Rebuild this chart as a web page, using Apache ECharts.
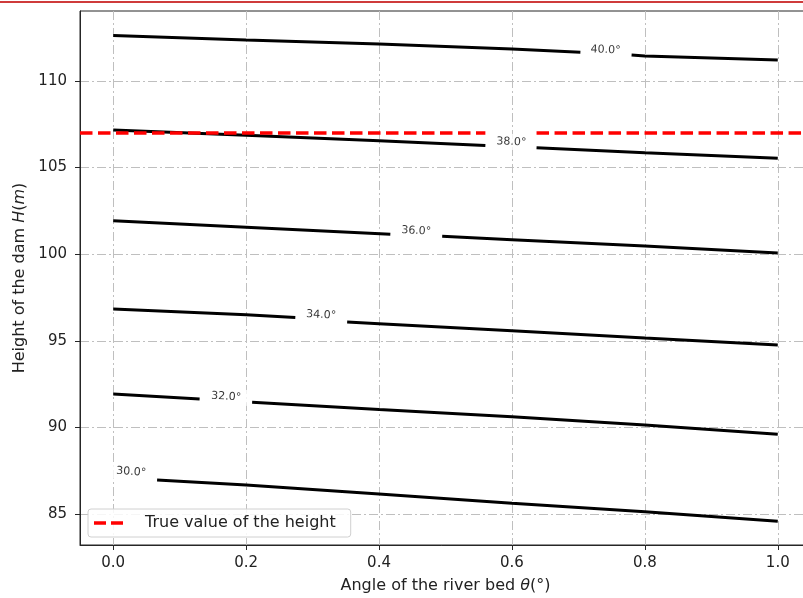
<!DOCTYPE html>
<html>
<head>
<meta charset="utf-8">
<script src="https://cdn.jsdelivr.net/npm/echarts@6/dist/echarts.min.js"></script>
<style>
  html, body { margin: 0; padding: 0; background: #fff; }
  #chart { width: 803px; height: 598px; }
</style>
</head>
<body>
<div id="chart"></div>
<script>
// Contour levels of the friction angle and the dam-height curves they produce.
const levelNames = ['40.0°', '38.0°', '36.0°', '34.0°', '32.0°', '30.0°'];

// Each curve: river-bed angle θ and dam height H; a null height marks the break
// left open for the inline contour label.
const theta40 = [0, 0.2, 0.4, 0.6, 0.703, 0.74, 0.780, 0.8, 1.0];
const height40 = [112.62, 112.37, 112.14, 111.85, 111.66, null, 111.50, 111.44, 111.21];

const theta38 = [0, 0.2, 0.4, 0.560, 0.6, 0.637, 0.8, 1.0];
const height38 = [107.17, 106.86, 106.55, 106.28, null, 106.15, 105.85, 105.54];

const theta36 = [0, 0.2, 0.417, 0.456, 0.495, 0.6, 0.8, 1.0];
const height36 = [101.93, 101.56, 101.15, null, 101.03, 100.84, 100.47, 100.07];

const theta34 = [0, 0.2, 0.274, 0.313, 0.352, 0.4, 0.6, 0.8, 1.0];
const height34 = [96.84, 96.51, 96.35, null, 96.09, 95.99, 95.58, 95.16, 94.76];

const theta32 = [0, 0.130, 0.17, 0.209, 0.4, 0.6, 0.8, 1.0];
const height32 = [91.93, 91.64, null, 91.45, 91.04, 90.62, 90.14, 89.60];

const theta30 = [0.066, 0.2, 0.4, 0.6, 0.8, 1.0];
const height30 = [86.96, 86.67, 86.15, 85.62, 85.13, 84.58];

// Where each contour label sits (θ, H).
const labelTheta = [0.741, 0.599, 0.456, 0.313, 0.170, 0.027];
const labelHeight = [111.79, 106.48, 101.34, 96.49, 91.77, 87.43];

// Reference height of the dam; the dashed line is interrupted behind the 38.0° label.
const trueHeight = 107;
const trueHeightName = 'True value of the height';
const trueLineTheta = [-0.05, 0.560, 0.6, 0.637, 1.05];
const trueLineHeight = [trueHeight, trueHeight, null, trueHeight, trueHeight];

// Tick values.
const xTicks = [0, 0.2, 0.4, 0.6, 0.8, 1.0];
const yTicks = [85, 90, 95, 100, 105, 110];

const curves = [
  [theta40, height40], [theta38, height38], [theta36, height36],
  [theta34, height34], [theta32, height32], [theta30, height30]
];

const FONT = '"DejaVu Sans", sans-serif';
const chart = echarts.init(document.getElementById('chart'), null, { renderer: 'canvas' });

function curveData(t, h) {
  return t.map((v, i) => [v, h[i] === null ? '-' : h[i]]);
}

function slopeAngle(t, h) {
  // on-screen angle of a curve, from its first to last point
  const i0 = 0, i1 = t.length - 1;
  const p0 = chart.convertToPixel({ gridIndex: 0 }, [t[i0], h[i0]]);
  const p1 = chart.convertToPixel({ gridIndex: 0 }, [t[i1], h[i1]]);
  return -Math.atan2(p1[1] - p0[1], p1[0] - p0[0]) * 180 / Math.PI;
}

const gridLine = { color: '#bfbfbf', width: 1, type: [9, 3, 2, 3] };
const dashIcon = 'path://M0,0H12V3.5H0ZM17,0H29V3.5H17Z';
const titleRich = { i: { fontFamily: FONT, fontSize: 16, fontStyle: 'italic', color: '#222' } };

function buildOption(angles) {
  const series = curves.map((c, k) => ({
    type: 'line',
    name: levelNames[k],
    data: curveData(c[0], c[1]),
    showSymbol: false,
    symbol: 'none',
    connectNulls: false,
    lineStyle: { color: '#000', width: 3 },
    z: 3,
    silent: true
  }));

  series.push({
    type: 'line',
    name: trueHeightName,
    data: curveData(trueLineTheta, trueLineHeight),
    symbol: 'none',
    connectNulls: false,
    itemStyle: { color: '#ff0000' },
    lineStyle: { color: '#ff0000', width: 3.5, type: [12.5, 5.5] },
    z: 4,
    silent: true
  });

  series.push({
    type: 'scatter',
    name: 'levels',
    symbolSize: 0,
    z: 10,
    silent: true,
    data: labelTheta.map((t, k) => ({
      value: [t, labelHeight[k]],
      label: { rotate: angles ? angles[k] : 0 }
    })),
    label: {
      show: true,
      position: 'inside',
      align: 'center',
      verticalAlign: 'middle',
      formatter: p => levelNames[p.dataIndex],
      fontFamily: FONT,
      fontSize: 11,
      color: '#000',
      backgroundColor: '#fff',
      padding: [3, 6, 2, 6]
    }
  });

  return {
    animation: false,
    backgroundColor: '#fff',
    textStyle: { fontFamily: FONT },
    grid: {
      left: 80, top: 11, width: 731, height: 534,
      outerBoundsMode: 'none',
      containLabel: false,
      show: true, borderColor: '#262626', borderWidth: 1, backgroundColor: 'transparent'
    },
    legend: {
      show: true,
      data: [{ name: trueHeightName, icon: dashIcon }],
      left: 88, top: 509,
      orient: 'vertical',
      padding: [6, 15, 6, 6],
      itemWidth: 29, itemHeight: 3.5,
      itemStyle: { color: '#ff0000', borderWidth: 0 },
      backgroundColor: 'rgba(255,255,255,0.85)',
      borderColor: '#d0d0d0', borderWidth: 1, borderRadius: 3,
      textStyle: { fontFamily: FONT, fontSize: 16, color: '#222', padding: [0, 0, 0, 17], lineHeight: 16 },
      selectedMode: false
    },
    xAxis: {
      type: 'value',
      min: -0.05, max: 1.05,
      name: 'Angle of the river bed {i|θ}(°)',
      nameLocation: 'middle',
      nameGap: 33,
      nameTextStyle: { fontFamily: FONT, fontSize: 16, color: '#222', rich: titleRich },
      axisLine: { show: true, onZero: false, lineStyle: { color: '#262626', width: 1 } },
      axisTick: { show: true, inside: false, length: 5, customValues: xTicks, lineStyle: { color: '#262626' } },
      axisLabel: {
        customValues: xTicks, margin: 11,
        fontFamily: FONT, fontSize: 15, color: '#222',
        formatter: v => Number(v).toFixed(1)
      },
      splitLine: { show: true, lineStyle: gridLine }
    },
    yAxis: {
      type: 'value',
      min: 83.21, max: 114.04,
      name: 'Height of the dam {i|H}({i|m})',
      nameLocation: 'middle',
      nameGap: 52,
      nameRotate: 90,
      nameTextStyle: { fontFamily: FONT, fontSize: 16, color: '#222', rich: titleRich },
      axisLine: { show: true, onZero: false, lineStyle: { color: '#262626', width: 1 } },
      axisTick: { show: true, inside: false, length: 5, customValues: yTicks, lineStyle: { color: '#262626' } },
      axisLabel: {
        customValues: yTicks, margin: 13,
        fontFamily: FONT, fontSize: 15, color: '#222'
      },
      splitLine: { show: true, lineStyle: gridLine }
    },
    graphic: [{
      type: 'rect',
      shape: { x: 0, y: 1, width: 803, height: 2 },
      style: { fill: '#cf3b3b' },
      silent: true
    }],
    series: series
  };
}

chart.setOption(buildOption(null));
const angles = curves.map(c => slopeAngle(c[0], c[1]));
chart.setOption(buildOption(angles));
</script>
</body>
</html>
